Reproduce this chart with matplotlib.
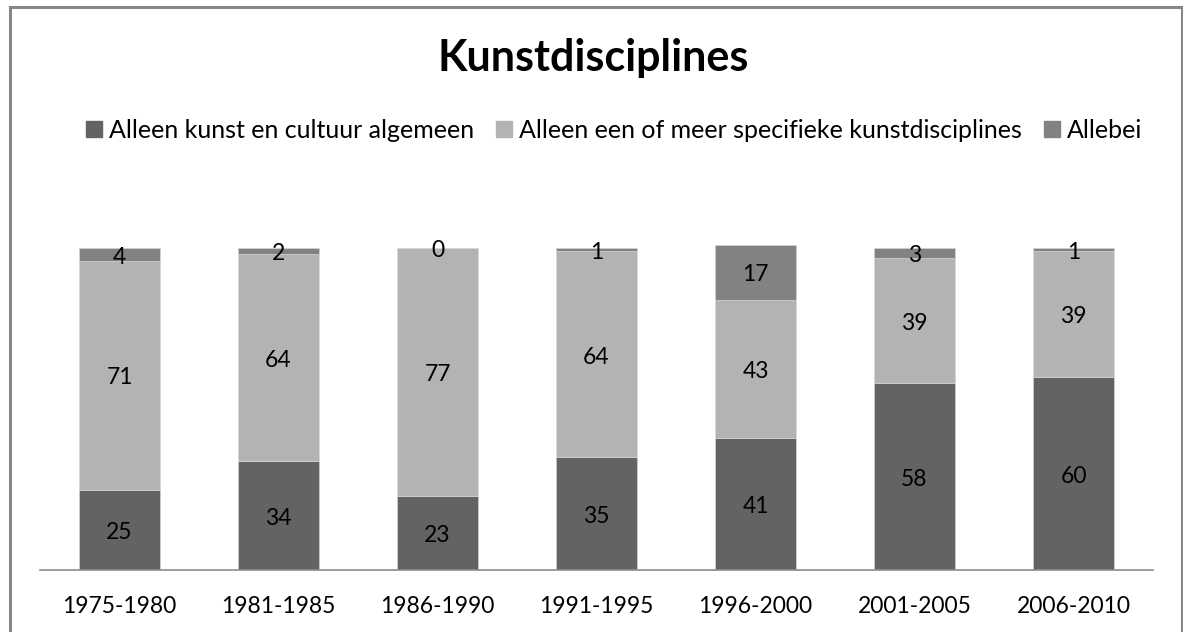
import numpy as np
import matplotlib
matplotlib.use("Agg")
import matplotlib.pyplot as plt
from matplotlib.lines import Line2D

plt.rcParams['font.family'] = ['Lato', 'DejaVu Sans']

periods = ['1975-1980', '1981-1985', '1986-1990', '1991-1995', '1996-2000', '2001-2005', '2006-2010']
algemeen = [25, 34, 23, 35, 41, 58, 60]
specifiek = [71, 64, 77, 64, 43, 39, 39]
allebei = [4, 2, 0, 1, 17, 3, 1]
series_names = ['Alleen kunst en cultuur algemeen',
                'Alleen een of meer specifieke kunstdisciplines',
                'Allebei']
colors = ['#636363', '#b3b3b3', '#828282']

W, H = 1183, 632
fig = plt.figure(figsize=(W / 100, H / 100), dpi=100)

# chart frame
frame_kw = dict(color='#878787', lw=2.2, transform=fig.transFigure)
fig.add_artist(Line2D([10 / W, 10 / W], [0, 1 - 7 / H], **frame_kw))
fig.add_artist(Line2D([10 / W, 1182 / W], [1 - 7 / H, 1 - 7 / H], **frame_kw))
fig.add_artist(Line2D([1182 / W, 1182 / W], [0, 1 - 7 / H], **frame_kw))

ax_bottom = (H - 570) / H
ax_top_px = 570 - 120 * 3.22
ax = fig.add_axes([40 / W, ax_bottom, (1153 - 40) / W, (570 - ax_top_px) / H])

x = np.arange(len(periods))
width = 0.51
bottom = np.zeros(len(periods))
for vals, col in zip([algemeen, specifiek, allebei], colors):
    vals = np.array(vals)
    ax.bar(x, vals, width, bottom=bottom, color=col, edgecolor='#d9d9d9', linewidth=0.4)
    for xi, b, v in zip(x, bottom, vals):
        ax.annotate(str(v), (xi, b + v / 2), xytext=(0, -2), textcoords='offset points',
                    ha='center', va='center', fontsize=16.5, color='black')
    bottom += vals

ax.set_xlim(-0.5, len(periods) - 0.5)
ax.set_ylim(0, 120)
ax.set_yticks([])
ax.set_xticks(x)
ax.set_xticklabels(periods, fontsize=16.5)
ax.tick_params(axis='x', length=0, pad=19)
for s in ['top', 'right', 'left']:
    ax.spines[s].set_visible(False)
ax.spines['bottom'].set_color('#8c8c8c')
ax.spines['bottom'].set_linewidth(1.2)

fig.text(593 / W, 1 - 58 / H, 'Kunstdisciplines', ha='center', va='center',
         fontsize=31, fontweight='bold')

handles = [Line2D([], [], marker='s', linestyle='none', markersize=12,
                  markerfacecolor=c, markeredgecolor=c) for c in colors]
fig.legend(handles, series_names, loc='center', bbox_to_anchor=(613 / W, 1 - 130 / H),
           ncol=3, frameon=False, fontsize=18, handletextpad=0.2,
           columnspacing=0.8, handlelength=0.8)

fig.savefig('out.png', dpi=100)
